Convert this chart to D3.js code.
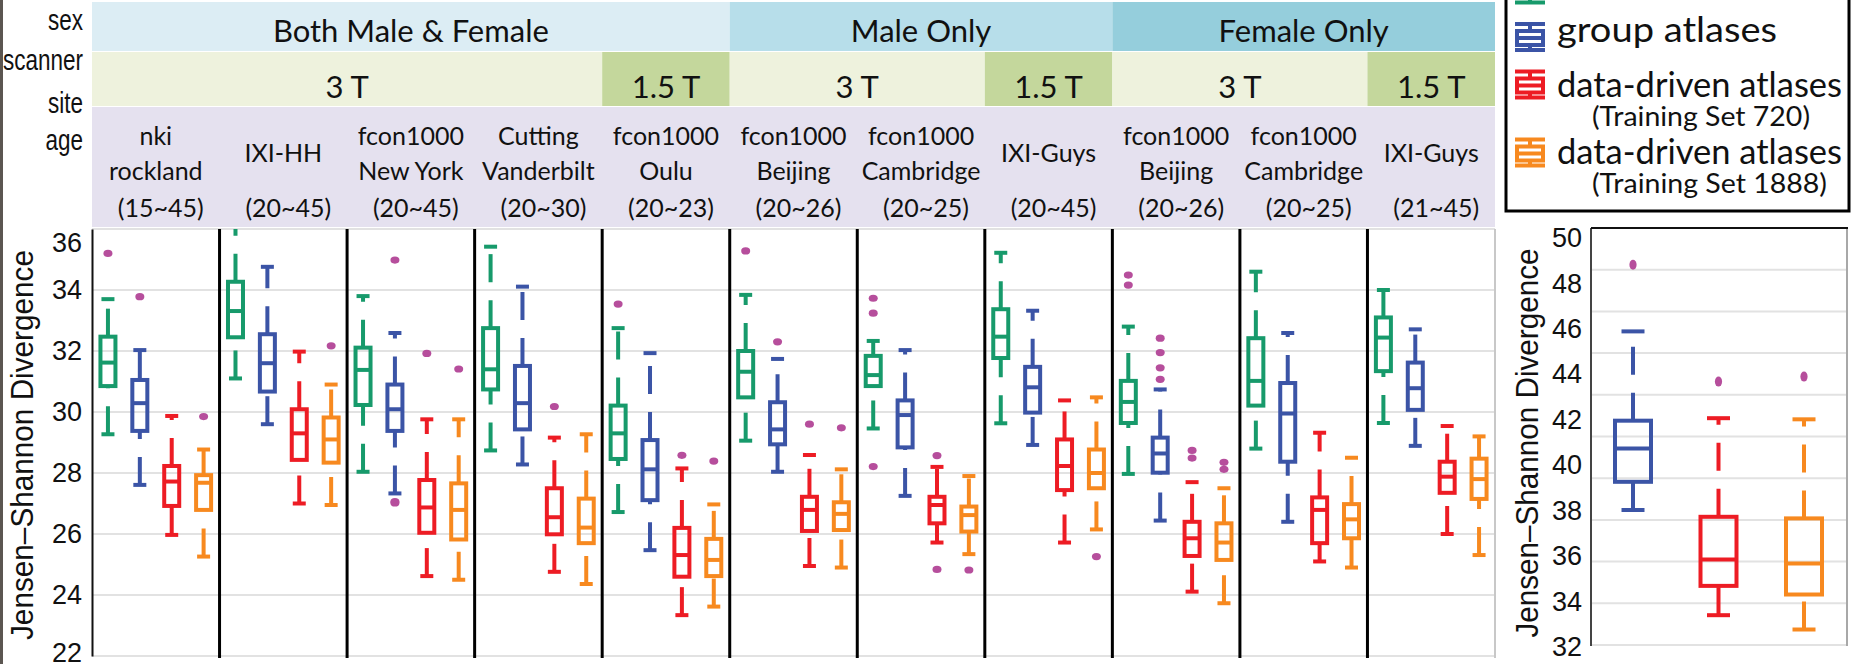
<!DOCTYPE html>
<html>
<head>
<meta charset="utf-8">
<script src="https://cdn.jsdelivr.net/npm/d3@7"></script>
<style>
  body { margin: 0; background: #fff; }
  svg { display: block; }
  .hdr { font-family: Lato, "Open Sans", sans-serif; fill: #111; }
  .lbl { font-family: "Liberation Sans", Arial, sans-serif; fill: #111; }
</style>
</head>
<body>
<svg width="1854" height="664"></svg>
<script>
// ---- data ----
var methods = ['single', 'group', 'dd720', 'dd1888']
var methodColors = ['#179a6b', '#3b54a6', '#ed1c24', '#f7891f']

var siteNames = [['nki', 'rockland'], ['IXI-HH'], ['fcon1000', 'New York'], ['Cutting', 'Vanderbilt'],
  ['fcon1000', 'Oulu'], ['fcon1000', 'Beijing'], ['fcon1000', 'Cambridge'], ['IXI-Guys'],
  ['fcon1000', 'Beijing'], ['fcon1000', 'Cambridge'], ['IXI-Guys']]
var siteAges = ['(15~45)', '(20~45)', '(20~45)', '(20~30)', '(20~23)', '(20~26)', '(20~25)',
  '(20~45)', '(20~26)', '(20~25)', '(21~45)']

var sexLabels = ['Both Male & Female', 'Male Only', 'Female Only']
var sexSpans = [[0, 5], [5, 8], [8, 11]]
var scannerLabels = ['3 T', '1.5 T', '3 T', '1.5 T', '3 T', '1.5 T']
var scannerSpans = [[0, 4], [4, 5], [5, 7], [7, 8], [8, 10], [10, 11]]
var rowLabels = ['sex', 'scanner', 'site', 'age']

// [lower whisker, q1, median, q3, upper whisker] per site, per method
var siteStats = [
  [[29.27, 30.85, 31.62, 32.47, 33.7], [27.61, 29.38, 30.29, 31.05, 32.03], [25.97, 26.92, 27.72, 28.23, 29.87], [25.26, 26.79, 27.68, 27.93, 28.77]],
  [[31.1, 32.45, 33.31, 34.27, 36.4], [29.6, 30.67, 31.6, 32.55, 34.76], [27.0, 28.43, 29.3, 30.09, 31.98], [26.95, 28.34, 29.1, 29.82, 30.9]],
  [[28.04, 30.23, 31.38, 32.11, 33.8], [27.33, 29.38, 30.09, 30.9, 32.59], [24.62, 26.04, 26.87, 27.77, 29.76], [24.5, 25.82, 26.79, 27.66, 29.76]],
  [[28.74, 30.74, 31.4, 32.75, 35.42], [28.28, 29.43, 30.29, 31.51, 34.11], [24.76, 25.99, 26.55, 27.5, 29.16], [24.36, 25.7, 26.21, 27.16, 29.27]],
  [[26.72, 28.46, 29.3, 30.21, 32.75], [25.47, 27.11, 28.12, 29.08, 31.93], [23.34, 24.6, 25.31, 26.2, 28.15], [23.62, 24.62, 25.15, 25.84, 26.97]],
  [[29.06, 30.48, 31.32, 32.0, 33.84], [28.04, 28.94, 29.43, 30.32, 31.74], [24.95, 26.1, 26.79, 27.22, 28.59], [24.9, 26.13, 26.66, 27.04, 28.12]],
  [[29.46, 30.85, 31.21, 31.84, 32.33], [27.25, 28.84, 29.9, 30.38, 32.03], [25.72, 26.35, 26.95, 27.22, 28.2], [25.34, 26.08, 26.62, 26.9, 27.9]],
  [[29.63, 31.77, 32.47, 33.37, 35.22], [28.92, 29.98, 30.81, 31.48, 33.32], [25.72, 27.44, 28.23, 29.1, 30.38], [26.15, 27.5, 28.0, 28.77, 30.48]],
  [[27.97, 29.64, 30.33, 31.02, 32.8], [26.44, 28.01, 28.64, 29.16, 30.74], [24.11, 25.28, 25.86, 26.4, 27.7], [23.73, 25.15, 25.72, 26.35, 27.5]],
  [[28.8, 30.21, 31.02, 32.42, 34.6], [26.4, 28.37, 29.95, 30.95, 32.59], [25.1, 25.7, 26.79, 27.2, 29.32], [24.9, 25.86, 26.48, 26.98, 28.5]],
  [[29.64, 31.34, 32.44, 33.1, 34.0], [28.89, 30.07, 30.78, 31.62, 32.71], [26.0, 27.35, 27.88, 28.37, 29.54], [25.31, 27.15, 27.8, 28.47, 29.2]]
]
var siteOutliers = [
  [[35.2], [33.78], [], [29.85]],
  [[], [], [], [32.17]],
  [[], [34.98, 27.06, 27.02], [31.92], [31.41]],
  [[], [], [30.18], []],
  [[33.54], [], [28.58], [28.39]],
  [[35.28], [32.3], [29.6], [29.48]],
  [[33.73, 33.24, 28.21], [], [28.57, 24.84], [24.82]],
  [[], [], [], [25.26]],
  [[34.49, 34.16], [32.42, 31.95, 31.45, 31.07], [28.74, 28.49], [28.35, 28.12]],
  [[], [], [], []],
  [[], [], [], []]
]
var leftTicks = [22, 24, 26, 28, 30, 32, 34, 36]

// pooled panel (group, data-driven 720, data-driven 1888)
var pooledMethods = ['group', 'dd720', 'dd1888']
var pooledStats = [[38.03, 39.27, 40.74, 41.96, 45.89], [33.40, 34.69, 35.85, 37.73, 42.07], [32.77, 34.31, 35.67, 37.66, 42.02]]
var pooledOutliers = [[48.82], [43.68], [43.9]]
var rightTicks = [32, 34, 36, 38, 40, 42, 44, 46, 48, 50]

var legendMain = ['', 'group atlases', 'data-driven atlases', 'data-driven atlases']
var legendSub = ['', '', '(Training Set 720)', '(Training Set 1888)']

// ---- layout ----
var svg = d3.select('svg')
var plotTop = 229, plotBottom = 656, plotLeft = 92, plotRight = 1495

var x = d3.scaleBand().domain(d3.range(siteNames.length)).range([plotLeft, plotRight])
var xm = d3.scaleBand().domain(methods).range([0, x.bandwidth()])
var y = d3.scaleLinear().domain([22, 36]).range([plotBottom, plotTop])

var colorOf = d3.scaleOrdinal().domain(methods).range(methodColors)

svg.append('rect').attr('x', 0).attr('y', 0).attr('width', 3).attr('height', 664).attr('fill', '#5b5651')

function spanX(d) { return x(d[0]) }
function spanW(d) { return x(d[1] - 1) + x.bandwidth() - x(d[0]) }

// header bands
var sexFill = ['#dcedf4', '#b7deea', '#95cedc']
svg.selectAll('rect.sex').data(sexSpans).enter().append('rect')
  .attr('x', spanX).attr('width', spanW)
  .attr('y', 2).attr('height', 49)
  .attr('fill', function (d, i) { return sexFill[i] })
svg.selectAll('text.sex').data(sexLabels).enter().append('text')
  .attr('class', 'hdr').attr('font-size', 31).attr('text-anchor', 'middle')
  .attr('x', function (d, i) { return spanX(sexSpans[i]) + spanW(sexSpans[i]) / 2 })
  .attr('y', 42).text(function (d) { return d })

svg.selectAll('rect.scan').data(scannerSpans).enter().append('rect')
  .attr('x', spanX).attr('width', spanW)
  .attr('y', 52).attr('height', 54)
  .attr('fill', function (d, i) { return scannerLabels[i] === '3 T' ? '#eef2dd' : '#c4d79c' })
svg.selectAll('text.scan').data(scannerLabels).enter().append('text')
  .attr('class', 'hdr').attr('font-size', 31).attr('text-anchor', 'middle')
  .attr('x', function (d, i) { return spanX(scannerSpans[i]) + spanW(scannerSpans[i]) / 2 })
  .attr('y', 98).text(function (d) { return d })

svg.append('rect').attr('x', plotLeft).attr('y', 107).attr('width', plotRight - plotLeft).attr('height', 120)
  .attr('fill', '#e5e1ef')

var siteG = svg.selectAll('g.site').data(siteNames).enter().append('g')
  .attr('transform', function (d, i) { return 'translate(' + (x(i) + x.bandwidth() / 2) + ',0)' })
siteG.selectAll('text').data(function (d) { return d }).enter().append('text')
  .attr('class', 'hdr').attr('font-size', 25).attr('text-anchor', 'middle')
  .attr('y', function (d, j, nodes) { return nodes.length === 1 ? 162 : 145 + j * 35 })
  .text(function (d) { return d })
siteG.append('text').attr('class', 'hdr').attr('font-size', 25).attr('text-anchor', 'middle')
  .attr('x', 5).attr('y', 217).text(function (d, i) { return siteAges[i] })

var rowBase = [30, 70, 113, 150]
svg.selectAll('text.row').data(rowLabels).enter().append('text')
  .attr('class', 'lbl').attr('font-size', 22.5).attr('text-anchor', 'end')
  .attr('transform', function (d, i) { return 'translate(83,' + rowBase[i] + ') scale(1,1.3)' })
  .text(function (d) { return d })

// ---- left plot ----
svg.append('g').selectAll('line').data(leftTicks).enter().append('line')
  .attr('x1', plotLeft).attr('x2', plotRight)
  .attr('y1', function (d) { return y(d) }).attr('y2', function (d) { return y(d) })
  .attr('stroke', '#e2e2e2').attr('stroke-width', 2)
svg.append('line').attr('x1', plotRight).attr('x2', plotRight).attr('y1', plotTop).attr('y2', plotBottom + 2)
  .attr('stroke', '#c8c8c8').attr('stroke-width', 2)

var yAxis = svg.append('g').attr('transform', 'translate(' + plotLeft + ',0)')
  .call(d3.axisLeft(y).tickValues(leftTicks).tickSize(0).tickSizeOuter(0).tickPadding(10))
yAxis.select('.domain').attr('stroke', '#111').attr('stroke-width', 2)
yAxis.selectAll('text').attr('class', 'lbl').attr('font-size', 27).attr('fill', '#111')
  .attr('y', function (d) { return d === 36 ? 14 : d === 22 ? -3 : 0 })

svg.append('text').attr('class', 'lbl').attr('font-size', 31).attr('text-anchor', 'middle')
  .attr('transform', 'translate(33,445) rotate(-90)')
  .attr('textLength', 390).attr('lengthAdjust', 'spacingAndGlyphs')
  .text('Jensen\u2013Shannon Divergence')

svg.append('clipPath').attr('id', 'clipL').append('rect')
  .attr('x', plotLeft).attr('y', plotTop).attr('width', plotRight - plotLeft).attr('height', plotBottom - plotTop)

function drawBox(g, cx, s, color, ys, boxW, capW) {
  // whiskers go from their lower end upward, dashed
  g.append('line').attr('x1', cx).attr('x2', cx).attr('y1', ys(s[3])).attr('y2', ys(s[4]))
    .attr('stroke', color).attr('stroke-width', 4).attr('stroke-dasharray', '28 18')
  g.append('line').attr('x1', cx).attr('x2', cx).attr('y1', ys(s[0])).attr('y2', ys(s[1]))
    .attr('stroke', color).attr('stroke-width', 4).attr('stroke-dasharray', '28 18')
  g.selectAll('line.cap').data([s[0], s[4]]).enter().append('line')
    .attr('x1', cx - capW / 2).attr('x2', cx + capW / 2)
    .attr('y1', function (d) { return ys(d) }).attr('y2', function (d) { return ys(d) })
    .attr('stroke', color).attr('stroke-width', 4)
  g.append('rect').attr('x', cx - boxW / 2).attr('width', boxW)
    .attr('y', ys(s[3])).attr('height', ys(s[1]) - ys(s[3]))
    .attr('fill', 'none').attr('stroke', color).attr('stroke-width', 4)
  g.append('line').attr('x1', cx - boxW / 2).attr('x2', cx + boxW / 2)
    .attr('y1', ys(s[2])).attr('y2', ys(s[2])).attr('stroke', color).attr('stroke-width', 4)
}

var boxesL = svg.append('g').attr('clip-path', 'url(#clipL)')
siteStats.forEach(function (site, i) {
  site.forEach(function (s, k) {
    var m = methods[k]
    var cx = x(i) + xm(m) + xm.bandwidth() / 2
    var g = boxesL.append('g')
    drawBox(g, cx, s, colorOf(m), y, 15, 13)
    g.selectAll('ellipse').data(siteOutliers[i][k]).enter().append('ellipse')
      .attr('cx', cx).attr('cy', function (d) { return y(d) })
      .attr('rx', 4.5).attr('ry', 3.6).attr('fill', '#b64e9c')
  })
})

svg.selectAll('line.sep').data(d3.range(1, siteNames.length)).enter().append('line')
  .attr('x1', function (d) { return x(d) }).attr('x2', function (d) { return x(d) })
  .attr('y1', plotTop).attr('y2', plotBottom + 2)
  .attr('stroke', '#000').attr('stroke-width', 3)

// ---- legend ----
var leg = svg.append('g')
leg.append('rect').attr('x', 1506).attr('y', -10).attr('width', 343).attr('height', 221)
  .attr('fill', '#fff').attr('stroke', '#000').attr('stroke-width', 3)
var iconY = [-10.5, 37, 84.5, 152.5]
var textY = [-7, 42, 97, 164]
methods.forEach(function (m, i) {
  var c = colorOf(m), yc = iconY[i], gi = leg.append('g')
  gi.selectAll('line.h').data([yc - 13, yc + 1, yc + 13]).enter().append('line')
    .attr('x1', 1515).attr('x2', 1545).attr('y1', function (d) { return d }).attr('y2', function (d) { return d })
    .attr('stroke', c).attr('stroke-width', 4)
  gi.append('rect').attr('x', 1517).attr('width', 26).attr('y', yc - 6).attr('height', 14)
    .attr('fill', 'none').attr('stroke', c).attr('stroke-width', 4)
  gi.selectAll('line.v').data([[yc - 13, yc - 6], [yc + 8, yc + 13]]).enter().append('line')
    .attr('x1', 1530).attr('x2', 1530).attr('y1', function (d) { return d[0] }).attr('y2', function (d) { return d[1] })
    .attr('stroke', c).attr('stroke-width', 4)
  if (legendMain[i]) {
    leg.append('text').attr('class', 'hdr').attr('font-size', 35).attr('x', 1557).attr('y', textY[i])
      .attr('textLength', legendMain[i].length > 14 ? 285 : 220).attr('lengthAdjust', 'spacingAndGlyphs')
      .text(legendMain[i])
  }
  if (legendSub[i]) {
    leg.append('text').attr('class', 'hdr').attr('font-size', 27).attr('x', 1592).attr('y', textY[i] + 29)
      .attr('textLength', legendSub[i].length > 18 ? 235 : 218).attr('lengthAdjust', 'spacingAndGlyphs')
      .text(legendSub[i])
  }
})

// ---- pooled panel ----
var rTop = 228, rBottom = 645, rLeft = 1591, rRight = 1847
var xr = d3.scalePoint().domain(pooledMethods).range([1633, 1804])
var yr = d3.scaleLinear().domain([32, 50]).range([647, 238])

svg.append('g').selectAll('line').data(d3.range(1, 11)).enter().append('line')
  .attr('x1', rLeft).attr('x2', rRight)
  .attr('y1', function (d) { return rTop + d * (rBottom - rTop) / 10 })
  .attr('y2', function (d) { return rTop + d * (rBottom - rTop) / 10 })
  .attr('stroke', '#e2e2e2').attr('stroke-width', 2)
svg.selectAll('line.rside').data([rLeft, rRight]).enter().append('line')
  .attr('x1', function (d) { return d }).attr('x2', function (d) { return d })
  .attr('y1', rTop).attr('y2', rBottom + 1)
  .attr('stroke', function (d, i) { return i ? '#a8a8a8' : '#444' }).attr('stroke-width', 2)
svg.append('line').attr('x1', rLeft).attr('x2', rRight + 1).attr('y1', rTop).attr('y2', rTop)
  .attr('stroke', '#111').attr('stroke-width', 2)

var yrAxis = svg.append('g').attr('transform', 'translate(' + rLeft + ',0)')
  .call(d3.axisLeft(yr).tickValues(rightTicks).tickSize(0).tickSizeOuter(0).tickPadding(9))
yrAxis.select('.domain').remove()
yrAxis.selectAll('text').attr('class', 'lbl').attr('font-size', 27).attr('fill', '#111')

svg.append('text').attr('class', 'lbl').attr('font-size', 31).attr('text-anchor', 'middle')
  .attr('transform', 'translate(1538,443) rotate(-90)')
  .attr('textLength', 389).attr('lengthAdjust', 'spacingAndGlyphs')
  .text('Jensen\u2013Shannon Divergence')

pooledStats.forEach(function (s, k) {
  var m = pooledMethods[k], cx = xr(m), g = svg.append('g')
  drawBox(g, cx, s, colorOf(m), yr, 36, 23)
  g.selectAll('ellipse').data(pooledOutliers[k]).enter().append('ellipse')
    .attr('cx', cx).attr('cy', function (d) { return yr(d) })
    .attr('rx', 3.6).attr('ry', 5).attr('fill', '#b64e9c')
})
</script>
</body>
</html>
